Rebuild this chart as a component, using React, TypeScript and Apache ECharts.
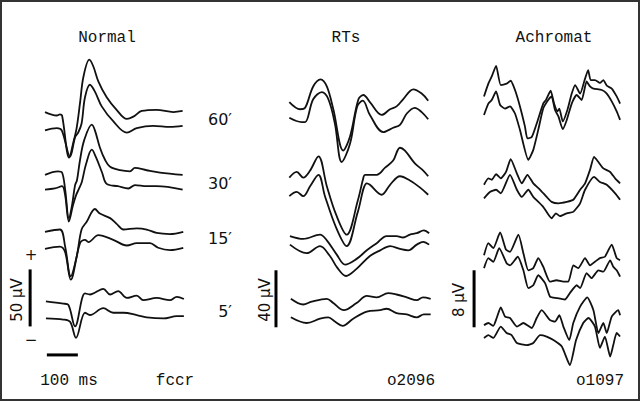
import { useEffect, useRef } from "react";
import * as echarts from "echarts";

// ---- Texts ----
const panelTitles = ["Normal", "RTs", "Achromat"];
const subjectIds = ["fccr", "o2096", "o1097"];
const rowLabels = ["60′", "30′", "15′", "5′"];
const scaleBarUnits = ["50 µV", "40 µV", "8 µV"];
const timeBarLabel = "100 ms";

// ---- Scale bars (data units: ms, µV) ----
const verticalBars = [
  [[-48, 47], [-48, 97]],
  [[-42, 37], [-42, 77]],
  [[-32, 7.4], [-32, 15.4]],
];
const timeBar = [[6, 22], [106, 22]];

// ---- Normal panel traces [ms, µV] ----
const normal60a = [[0,235],[38,232],[48,233],[55,232],[78,195],[91,208],[102,221],[113,243],[124,266],[143,281],[156,275],[172,262],[199,248],[231,237],[264,229],[285,231],[312,236],[360,237],[414,235],[444,236]];
const normal60b = [[0,219],[38,221],[54,219],[81,196],[97,213],[107,217],[118,225],[129,248],[145,259],[161,253],[183,240],[220,227],[264,217],[296,221],[349,223],[403,222],[444,223]];
const normal30a = [[0,180],[42,183],[55,182],[65,167],[77,142],[87,153],[97,171],[103,175],[113,193],[126,210],[151,224],[161,219],[177,204],[194,193],[210,187],[242,184],[274,183],[290,186],[328,184],[371,182],[444,180]];
const normal30b = [[0,167],[32,168],[55,170],[65,162],[77,139],[90,153],[100,162],[110,168],[119,174],[132,189],[151,202],[165,195],[184,182],[199,172],[235,170],[269,168],[290,171],[328,170],[360,170],[444,167]];
const normal15a = [[0,130],[48,132],[65,117],[83,91],[102,108],[118,132],[135,139],[161,150],[177,146],[210,142],[231,137],[253,132],[296,133],[328,132],[360,129],[403,128],[446,130]];
const normal15b = [[0,115],[48,117],[65,112],[83,88],[113,120],[129,123],[140,121],[172,127],[220,123],[264,118],[296,120],[339,120],[365,116],[403,114],[446,116]];
const normal5a = [[3,69],[59,67],[75,66],[97,47],[129,76],[145,75],[188,80],[210,75],[236,78],[264,72],[296,74],[317,70],[360,72],[403,70],[425,73],[448,71]];
const normal5b = [[3,54],[59,53],[81,51],[100,37],[129,59],[145,57],[188,63],[220,59],[253,59],[296,57],[328,55],[382,54],[425,56],[448,56]];

// ---- RTs panel traces ----
const rts60a = [[1,195],[36,190],[52,191],[78,206],[102,211],[122,206],[143,190],[175,161],[197,171],[224,197],[240,200],[261,195],[299,186],[326,190],[347,192],[368,197],[401,204],[428,201],[449,196]];
const rts60b = [[1,184],[41,181],[52,181],[78,197],[106,202],[127,197],[148,180],[170,153],[197,166],[220,192],[238,196],[261,186],[304,174],[336,177],[358,179],[380,187],[406,191],[428,188],[449,183]];
const rts30a = [[1,142],[25,146],[46,142],[68,147],[95,157],[122,136],[152,116],[186,102],[222,126],[240,142],[245,144],[283,144],[310,149],[336,154],[358,163],[374,161],[406,152],[433,147],[449,143]];
const rts30b = [[1,129],[25,132],[46,129],[68,136],[95,144],[116,129],[152,107],[186,94],[222,118],[251,138],[261,137],[299,130],[326,137],[358,143],[390,140],[423,135],[449,130]];
const rts15a = [[3,101],[46,99],[100,102],[122,98],[154,88],[181,81],[218,85],[251,91],[283,96],[315,101],[347,101],[368,100],[390,102],[412,103],[435,105],[452,103]];
const rts15b = [[3,95],[57,89],[100,94],[132,87],[155,79],[184,73],[218,78],[261,87],[294,91],[326,94],[358,92],[385,91],[412,95],[433,97],[452,95]];
const rts5a = [[6,57],[46,53],[73,55],[122,57],[143,54],[177,49],[218,54],[251,59],[283,58],[320,61],[347,60],[380,58],[412,56],[432,58],[457,57]];
const rts5b = [[6,44],[57,40],[100,43],[127,44],[148,41],[173,38],[207,43],[251,48],[294,49],[315,50],[347,47],[380,46],[412,44],[435,46],[457,46]];

// ---- Achromat panel traces ----
const achro60a = [[0,39.8],[14,41.6],[25,42.6],[39,44.1],[54,41.4],[73,41.6],[86,42.0],[100,40.7],[116,38.4],[132,35.6],[140,33.9],[154,34.1],[170,36.0],[191,38.8],[200,39.3],[215,40.6],[226,38.8],[237,37.7],[243,38.1],[254,36.3],[269,37.9],[283,40.2],[294,41.4],[310,40.2],[326,42.3],[336,43.5],[344,42.1],[358,42.1],[374,41.7],[385,42.1],[396,41.3],[412,40.9],[428,39.8],[439,38.8]];
const achro60b = [[0,37.2],[14,38.8],[25,39.3],[39,40.5],[52,38.6],[68,38.1],[84,38.4],[100,37.4],[116,35.1],[143,30.9],[159,32.3],[175,35.1],[191,38.1],[207,39.3],[218,39.8],[229,37.9],[240,37.0],[254,35.2],[267,36.5],[283,38.8],[299,40.0],[315,39.3],[331,41.9],[342,41.2],[353,40.9],[380,40.7],[396,40.2],[412,39.1],[428,37.7],[439,36.5]];
const achro30a = [[0,27.4],[14,28.3],[25,28.1],[39,28.9],[54,28.3],[71,29.2],[86,31.0],[106,29.0],[122,27.6],[140,28.8],[159,27.6],[181,26.7],[202,25.7],[218,25.0],[240,24.8],[267,25.0],[288,25.3],[310,26.7],[326,27.6],[342,29.5],[355,31.3],[369,30.6],[385,29.7],[407,29.2],[423,28.3],[439,27.6]];
const achro30b = [[0,25.5],[19,26.4],[39,26.7],[54,26.2],[84,28.8],[106,26.7],[122,25.7],[143,26.7],[159,25.7],[191,24.3],[218,22.7],[232,23.4],[245,23.0],[267,23.4],[288,23.6],[310,24.8],[326,26.7],[355,28.5],[374,27.8],[396,27.4],[423,26.2],[439,25.3]];
const achro15a = [[0,17.5],[14,19.2],[30,18.5],[52,20.7],[71,18.3],[84,18.0],[111,20.4],[127,17.8],[143,15.4],[159,15.7],[175,17.1],[191,15.9],[213,13.8],[234,14.0],[256,13.8],[272,13.8],[288,16.1],[304,15.7],[326,17.1],[342,16.1],[358,16.6],[374,17.1],[390,17.3],[412,19.0],[428,17.1],[439,16.8]];
const achro15b = [[0,15.7],[14,17.1],[30,16.6],[49,18.5],[73,16.4],[84,16.1],[109,17.3],[127,15.4],[143,12.9],[159,13.3],[175,14.7],[197,13.6],[213,11.7],[234,11.5],[261,11.3],[277,12.2],[299,13.3],[310,12.9],[331,15.0],[347,14.3],[369,15.4],[385,15.2],[407,16.8],[417,15.9],[428,15.4],[439,14.5]];
const achro5a = [[0,7.7],[14,8.0],[30,7.6],[41,8.7],[54,10.2],[68,8.9],[84,8.7],[106,7.5],[127,8.0],[154,7.3],[170,8.7],[186,9.8],[213,8.4],[229,8.2],[243,9.1],[256,7.5],[275,5.6],[288,8.0],[310,10.3],[333,11.6],[353,9.8],[369,6.6],[385,8.0],[396,6.6],[412,8.9],[433,9.8],[439,9.1]];
const achro5b = [[0,5.9],[14,6.3],[30,5.9],[54,7.5],[73,6.6],[89,6.3],[106,5.2],[138,4.9],[159,5.2],[181,6.3],[202,6.1],[224,5.6],[251,4.7],[277,2.1],[297,5.6],[320,8.0],[337,8.7],[358,7.5],[374,4.5],[390,6.1],[407,3.3],[417,4.9],[428,6.6],[439,6.1]];

const panelTraces = [
  [normal60a, normal60b, normal30a, normal30b, normal15a, normal15b, normal5a, normal5b],
  [rts60a, rts60b, rts30a, rts30b, rts15a, rts15b, rts5a, rts5b],
  [achro60a, achro60b, achro30a, achro30b, achro15a, achro15b, achro5a, achro5b],
];
const panelYMax = [300, 240, 48];

export default function App() {
  const ref = useRef<HTMLDivElement>(null);
  useEffect(() => {
    if (!ref.current) return;
    const chart = echarts.init(ref.current, null, { renderer: "svg" });
    const gridLefts = [26.4, 270.4, 465.4];
    const grid = gridLefts.map((left) => ({ left, top: 38, width: 161.2, height: 342 }));
    const xAxis = gridLefts.map((_, i) => ({ type: "value", gridIndex: i, min: -60, max: 460, show: false }));
    const yAxis = gridLefts.map((_, i) => ({ type: "value", gridIndex: i, min: 0, max: panelYMax[i], show: false }));
    const series: any[] = [];
    panelTraces.forEach((traces, p) => {
      traces.forEach((d) => {
        series.push({
          type: "line", xAxisIndex: p, yAxisIndex: p, data: d,
          symbol: "none", showSymbol: false, silent: true, clip: false,
          smooth: p < 2 ? 0.35 : 0.18,
          lineStyle: { color: "#111", width: 1.8 },
        });
      });
      series.push({
        type: "line", xAxisIndex: p, yAxisIndex: p, data: verticalBars[p],
        symbol: "none", silent: true, clip: false,
        lineStyle: { color: "#000", width: 3 },
      });
    });
    series.push({
      type: "line", xAxisIndex: 0, yAxisIndex: 0, data: timeBar,
      symbol: "none", silent: true, clip: false,
      lineStyle: { color: "#000", width: 3 },
    });

    const mono = "Liberation Mono";
    const sans = "DejaVu Sans";
    const txt = (text: string, x: number, y: number, family: string, size: number, align = "center", rotation = 0) => ({
      type: "text", x, y, rotation, silent: true,
      style: { text, fill: "#111", font: `${size}px "${family}"`, align, verticalAlign: "middle", textAlign: align, textVerticalAlign: "middle" },
    });
    const titleX = [107, 346, 554];
    const idX = [175, 411, 600];
    const rowY = [119, 183, 238, 311];
    const unitX = [17, 265, 459];
    const graphic: any[] = [
      { type: "rect", shape: { x: 1, y: 1, width: 638, height: 399 }, style: { fill: "none", stroke: "#333", lineWidth: 2 }, silent: true },
    ];
    panelTitles.forEach((t, i) => graphic.push(txt(t, titleX[i], 38, mono, 16)));
    subjectIds.forEach((t, i) => graphic.push(txt(t, idX[i], 381, mono, 16)));
    graphic.push(txt(timeBarLabel, 69, 381, mono, 16));
    rowLabels.forEach((t, i) => graphic.push(txt(t, 232, rowY[i], sans, 16, "right")));
    scaleBarUnits.forEach((t, i) => graphic.push(txt(t, unitX[i], 300, sans, 15, "center", Math.PI / 2)));
    graphic.push(txt("+", 31, 255, sans, 15));
    graphic.push(txt("−", 31, 340, sans, 15));

    chart.setOption({ animation: false, backgroundColor: "#fff", grid, xAxis, yAxis, series, graphic });
    return () => chart.dispose();
  }, []);
  return <div ref={ref} style={{ position: "fixed", left: 0, top: 0, width: 640, height: 401, background: "#fff" }} />;
}
